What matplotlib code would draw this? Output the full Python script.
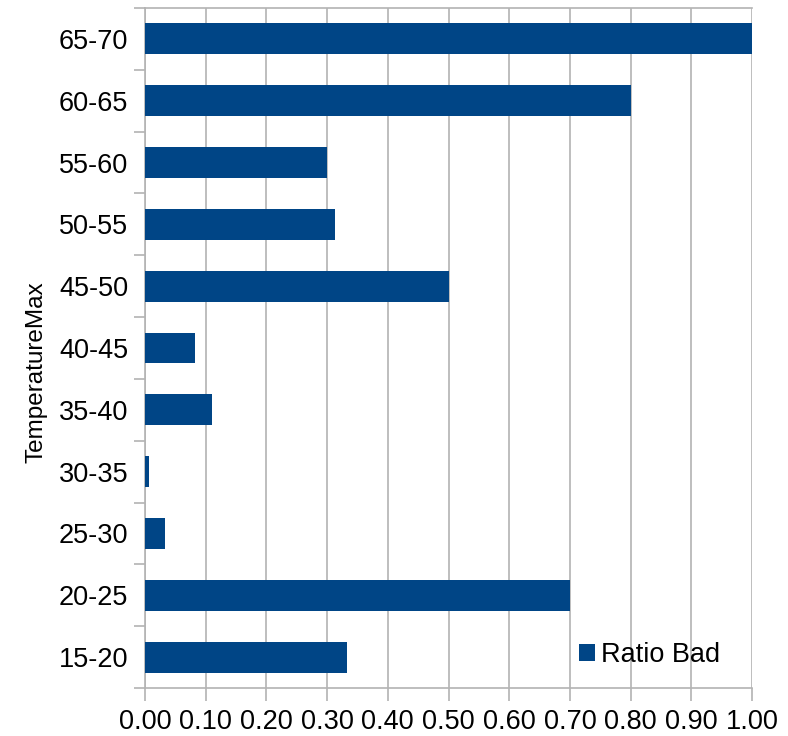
import matplotlib
matplotlib.use("Agg")
import matplotlib.pyplot as plt
from matplotlib.ticker import FixedLocator
import numpy as np

categories = ["15-20", "20-25", "25-30", "30-35", "35-40", "40-45",
              "45-50", "50-55", "55-60", "60-65", "65-70"]
ratio_bad = [0.333, 0.70, 0.033, 0.007, 0.111, 0.083,
             0.50, 0.3125, 0.30, 0.80, 1.00]
series_name = "Ratio Bad"
ylabel = "TemperatureMax"
xticks = [i / 10 for i in range(11)]

plt.rcParams['font.family'] = ['Liberation Sans', 'DejaVu Sans']

fig = plt.figure(figsize=(7.88, 7.36), dpi=100)
ax = fig.add_axes([145 / 788, 1 - 688 / 736, (752 - 145) / 788, (688 - 8) / 736])

bar_color = "#004586"
grid_color = "#b3b3b3"

y = np.arange(len(categories))
ax.barh(y, ratio_bad, height=0.5, color=bar_color, label=series_name, zorder=3)

ax.set_xlim(0, 1.0)
ax.set_ylim(-0.5, len(categories) - 0.5)
ax.set_xticks(xticks)
ax.set_xticklabels([f"{v:.2f}" for v in xticks], fontsize=19.5)
ax.set_yticks(y)
ax.set_yticklabels(categories, fontsize=19.5)
ax.yaxis.set_minor_locator(FixedLocator(np.arange(-0.5, len(categories), 1.0)))
ax.tick_params(axis='y', which='major', length=0, pad=12)
ax.tick_params(axis='y', which='minor', length=8, color=grid_color, width=1.2)
ax.tick_params(axis='x', which='major', length=9, color=grid_color, width=1.2, pad=6)

ax.grid(axis='x', color=grid_color, linewidth=1.2, zorder=0)
for side in ['left', 'bottom', 'top']:
    ax.spines[side].set_color(grid_color)
    ax.spines[side].set_linewidth(1.2)
ax.spines['right'].set_visible(False)

ax.set_ylabel(ylabel, fontsize=17.5)
ax.yaxis.set_label_coords(-0.16, 0.465)

leg = ax.legend(loc='center right', bbox_to_anchor=(0.947, 0.049), frameon=False,
                fontsize=19.5, handlelength=0.6, handleheight=0.6, handletextpad=0.2,
                borderaxespad=0, borderpad=0)

fig.savefig("out.png", dpi=100)
